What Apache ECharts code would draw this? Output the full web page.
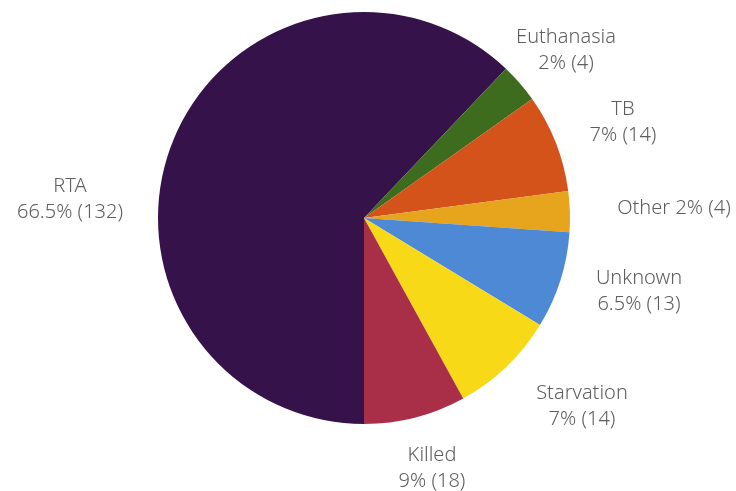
<!DOCTYPE html>
<html>
<head>
<meta charset="utf-8">
<script src="https://cdn.jsdelivr.net/npm/echarts@6/dist/echarts.min.js"></script>
<style>
html,body{margin:0;padding:0;background:#fff;}
#c{width:736px;height:491px;}
</style>
</head>
<body>
<div id="c"></div>
<script>
// Categories (clockwise from 6 o'clock)
var categories = ['RTA', 'Euthanasia', 'TB', 'Other', 'Unknown', 'Starvation', 'Killed'];
// Counts and percentages as printed in the labels
var counts = [132, 4, 14, 4, 13, 14, 18];
var percents = ['66.5%', '2%', '7%', '2%', '6.5%', '7%', '9%'];
// Slice sizes as drawn in the picture (share of the circle, %)
var sliceShare = [62.1, 3.1, 7.7, 3.2, 7.6, 8.3, 8.0];

var colors = ['#35124a', '#3e6c1f', '#d3531b', '#e7a41d', '#4e89d6', '#f7d918', '#a92f49'];
// label block centres (style only)
var labelPos = [[70, 199], [566, 50], [623, 122], [674, 208], [639, 291], [582, 406], [432, 468]];
var singleLine = [false, false, false, true, false, false, false];

var data = categories.map(function (c, i) {
  return { name: c, value: sliceShare[i], itemStyle: { color: colors[i] } };
});

var chart = echarts.init(document.getElementById('c'), null, { renderer: 'canvas' });
chart.setOption({
  backgroundColor: '#ffffff',
  animation: false,
  series: [{
    type: 'pie',
    center: [364, 218],
    radius: 206,
    startAngle: 270,
    clockwise: true,
    avoidLabelOverlap: false,
    data: data,
    label: {
      show: true,
      position: 'outside',
      fontFamily: 'Noto Sans',
      fontWeight: 300,
      fontSize: 20,
      color: '#5e5e5e',
      lineHeight: 26,
      formatter: function (p) {
        var i = p.dataIndex;
        var txt = percents[i] + ' (' + counts[i] + ')';
        return singleLine[i] ? categories[i] + ' ' + txt : categories[i] + '\n' + txt;
      }
    },
    labelLine: { show: false },
    labelLayout: function (p) {
      var i = p.dataIndex;
      return {
        x: labelPos[i][0],
        y: labelPos[i][1],
        align: 'center',
        verticalAlign: 'middle'
      };
    }
  }]
});
</script>
</body>
</html>
